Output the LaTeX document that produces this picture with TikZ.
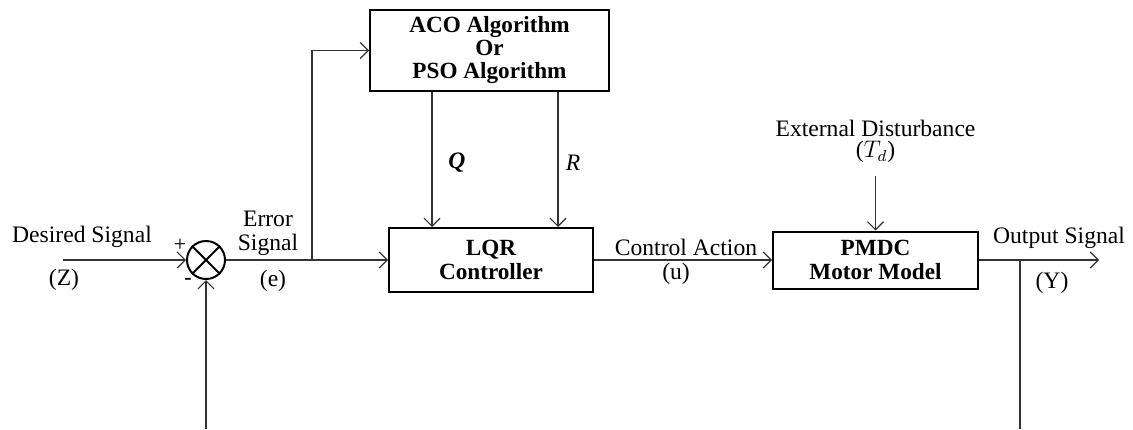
\documentclass[tikz,border=0pt]{standalone}
\usepackage{fontspec}
\setmainfont{Liberation Serif}
\usetikzlibrary{arrows.meta,positioning}

\tikzset{
  block/.style={draw, line width=1pt, align=center, inner sep=0pt,
    font=\fontsize{11.6}{12.4}\selectfont\bfseries},
  sig/.style={line width=0.6pt, draw=black!80, -{Straight Barb[length=4pt,width=8pt]}},
  wire/.style={line width=0.6pt, draw=black!80},
  lbl/.style={inner sep=0pt, align=center, font=\fontsize{11.8}{12}\selectfont},
}

\begin{document}
\begin{tikzpicture}[x=0.5pt,y=-0.5pt]
\useasboundingbox (0,0) rectangle (1133,429);

% blocks
\node[block, minimum width=119.5pt, minimum height=40.5pt, font=\fontsize{11.6}{11.5}\selectfont\bfseries] (aco) at (489.5,50.5) {ACO Algorithm\\Or\\PSO Algorithm};
\node[block, minimum width=102pt, minimum height=32pt] (lqr) at (491,260) {LQR\\Controller};
\node[block, minimum width=102.5pt, minimum height=28.5pt] (pmdc) at (875.5,260) {PMDC\\Motor Model};
\node[draw, circle, line width=1pt, minimum size=19pt, inner sep=0pt] (sum) at (206,260) {};
\draw[line width=1pt] (sum.north west) -- (sum.south east) (sum.north east) -- (sum.south west);

% free ends
\coordinate (zin) at (63,260);
\coordinate (branch) at (312,260);
\coordinate (dist) at (875.5,176);
\coordinate (tap) at (1020,260);
\coordinate (yout) at (1099,260);
\coordinate (fbout) at (1020,429);
\coordinate (fbin) at (206,429);

% connectors
\draw[sig] (zin) -- (sum.west);
\draw[sig] (sum.east) -- (lqr.west);
\draw[sig] (branch) |- (aco.west);
\draw[sig] ([xshift=-28.75pt]aco.south) -- ([xshift=-28.75pt]aco.south |- lqr.north);
\draw[sig] ([xshift=34.25pt]aco.south) -- ([xshift=34.25pt]aco.south |- lqr.north);
\draw[sig] (lqr.east) -- (pmdc.west);
\draw[sig] (dist) -- (pmdc.north);
\draw[sig] (pmdc.east) -- (yout);
\draw[wire] (tap) -- (fbout);
\draw[sig] (fbin) -- (sum.south);

% labels
\node[lbl] (zname) at (82,237) {Desired Signal};
\node[lbl] (zsym) at (64,280) {(Z)};
\node[lbl, font=\fontsize{11}{11}\selectfont] (plus) at (180,245) {+};
\node[lbl, font=\fontsize{11}{11}\selectfont\bfseries] (minus) at (188,281) {-};
\node[lbl] (ename) at (268,233) {Error\\Signal};
\node[lbl] (esym) at (273,281) {(e)};
\node[lbl] (qlbl) at (457,163) {\textbf{\textit{Q}}};
\node[lbl] (rlbl) at (573,163) {\textit{R}};
\node[lbl] (uname) at (686,247) {Control Action};
\node[lbl] (usym) at (676,274) {(u)};
\node[lbl] (dname) at (875.5,128) {External Disturbance};
\node[lbl] (dsym) at (875.5,152) {($T_d$)};
\node[lbl] (yname) at (1059,238) {Output Signal};
\node[lbl] (ysym) at (1052,283) {(Y)};
\end{tikzpicture}
\end{document}
